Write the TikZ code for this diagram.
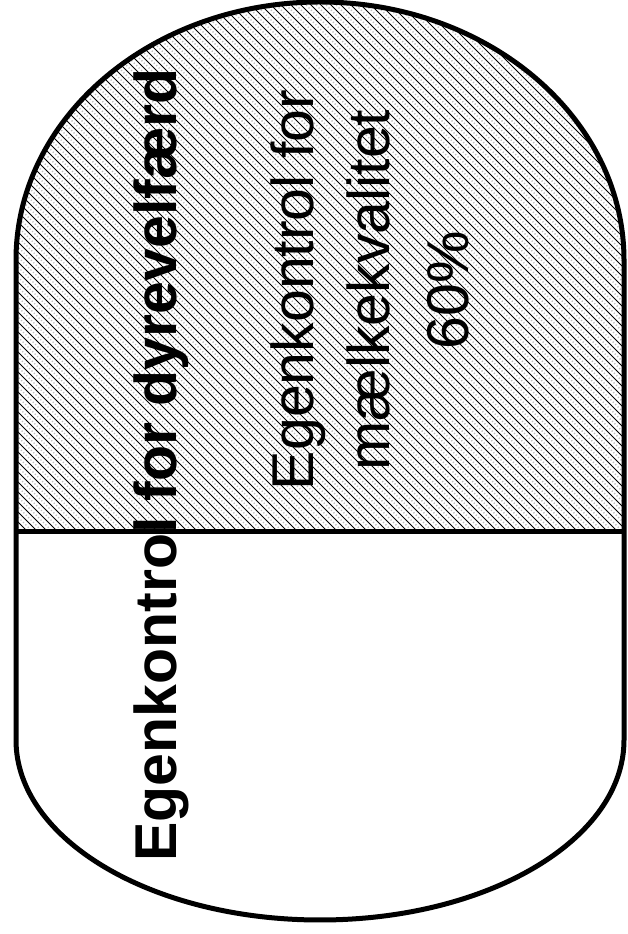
\documentclass[tikz,border=0pt]{standalone}
\usepackage{fontspec}
\setmainfont{Liberation Sans}
\begin{document}
\begin{tikzpicture}[x=1pt,y=1pt,
  outline/.style={line width=5pt,draw=black},
  hatchline/.style={line width=0.9pt,black},
  hatchdot/.style={line width=1.4pt,gray!50,dash pattern=on 1.2pt off 2.2pt},
  boldlbl/.style={rotate=90,anchor=base,font=\fontsize{59}{78}\selectfont\bfseries,inner sep=0pt},
  reglbl/.style={rotate=90,anchor=base,font=\fontsize{59}{78}\selectfont,inner sep=0pt}]
\useasboundingbox (0,0) rectangle (628,934);
\fill[white] (0,0) rectangle (628,934);
\begin{scope}
  \clip (16,402) -- (16,674) arc[start angle=180,end angle=0,x radius=304,y radius=258] -- (624,402) -- cycle;
  \foreach \c in {0,10,...,1570} {
    \draw[hatchline] (\c,0) -- ++(-934,934);
    \draw[hatchdot] (\c+5,0) -- ++(-934,934);
  }
\end{scope}
\draw[outline] (16,402) -- (624,402);
\draw[outline] (16,194) -- (16,674) arc[start angle=180,end angle=0,x radius=304,y radius=258]
  -- (624,194) arc[start angle=0,end angle=-180,x radius=304,y radius=180] -- cycle;
\node[boldlbl] (title) at (176,469) {Egenkontrol for dyrevelfærd};
\node[reglbl] (l1) at (313,644) {Egenkontrol for};
\node[reglbl] (l2) at (389,644) {mælkekvalitet};
\node[reglbl] (l3) at (468,644) {60\%};
\end{tikzpicture}
\end{document}
